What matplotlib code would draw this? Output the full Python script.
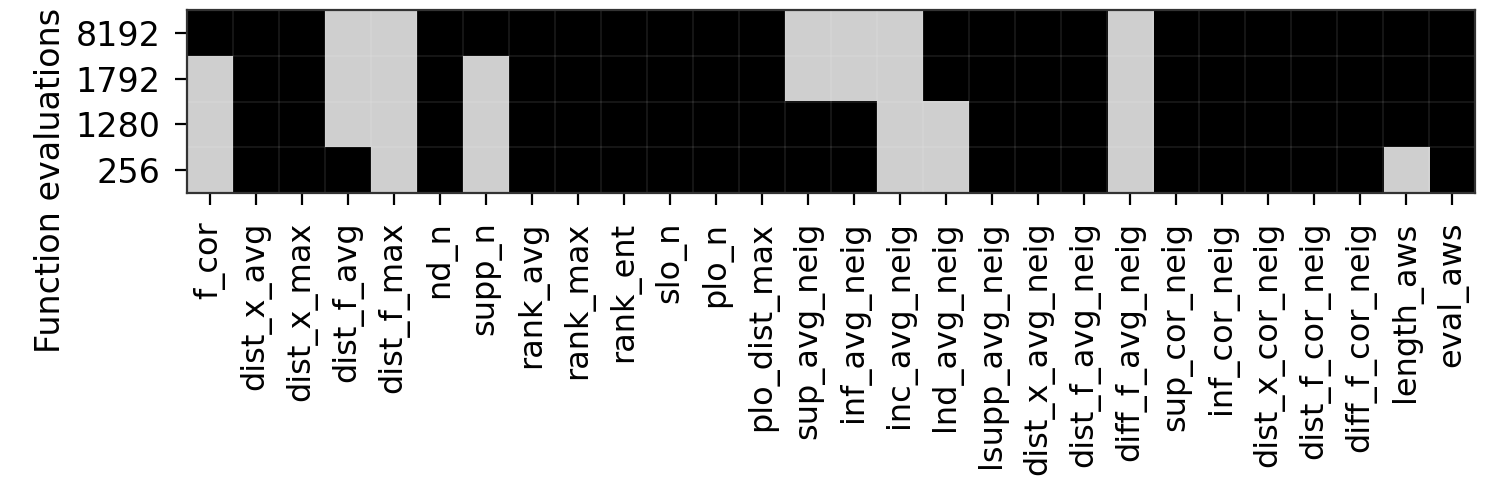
import matplotlib
matplotlib.use("Agg")
import matplotlib.pyplot as plt
import numpy as np
from matplotlib.colors import ListedColormap

FEATURES = [
    "f_cor", "dist_x_avg", "dist_x_max", "dist_f_avg", "dist_f_max", "nd_n",
    "supp_n", "rank_avg", "rank_max", "rank_ent", "slo_n", "plo_n",
    "plo_dist_max", "sup_avg_neig", "inf_avg_neig", "inc_avg_neig",
    "lnd_avg_neig", "lsupp_avg_neig", "dist_x_avg_neig", "dist_f_avg_neig",
    "diff_f_avg_neig", "sup_cor_neig", "inf_cor_neig", "dist_x_cor_neig",
    "dist_f_cor_neig", "diff_f_cor_neig", "length_aws", "eval_aws",
]
BUDGETS = ["8192", "1792", "1280", "256"]

# 1 = selected (light grey), 0 = not selected (black)
SEL_8192 = [0, 0, 0, 1, 1, 0, 0, 0, 0, 0, 0, 0, 0, 1, 1, 1, 0, 0, 0, 0, 1, 0, 0, 0, 0, 0, 0, 0]
SEL_1792 = [1, 0, 0, 1, 1, 0, 1, 0, 0, 0, 0, 0, 0, 1, 1, 1, 0, 0, 0, 0, 1, 0, 0, 0, 0, 0, 0, 0]
SEL_1280 = [1, 0, 0, 1, 1, 0, 1, 0, 0, 0, 0, 0, 0, 0, 0, 1, 1, 0, 0, 0, 1, 0, 0, 0, 0, 0, 0, 0]
SEL_256 = [1, 0, 0, 0, 1, 0, 1, 0, 0, 0, 0, 0, 0, 0, 0, 1, 1, 0, 0, 0, 1, 0, 0, 0, 0, 0, 1, 0]

plt.rcParams.update({"font.size": 12, "font.family": "DejaVu Sans"})

mat = np.array([SEL_8192, SEL_1792, SEL_1280, SEL_256])

fig, ax = plt.subplots(figsize=(7.465, 2.43), dpi=200)
fig.subplots_adjust(left=0.125, right=0.988, top=0.979, bottom=0.603)

cmap = ListedColormap(["#000000", "#cfcfcf"])
ax.imshow(mat, cmap=cmap, vmin=0, vmax=1, aspect="auto", interpolation="nearest")

ax.set_xticks(np.arange(len(FEATURES)))
ax.set_xticklabels(FEATURES, rotation=90, fontsize=11.5)
ax.set_yticks(np.arange(len(BUDGETS)))
ax.set_yticklabels(BUDGETS, fontsize=12)
ax.tick_params(which="major", length=4.3, pad=5)
ax.tick_params(axis="x", which="major", pad=6)
ax.set_ylabel("Function evaluations", fontsize=12)
ax.yaxis.set_label_coords(-0.093, 0.07)

# faint cell separators
ax.set_xticks(np.arange(-0.5, len(FEATURES), 1), minor=True)
ax.set_yticks(np.arange(-0.5, len(BUDGETS), 1), minor=True)
ax.grid(which="minor", color="white", alpha=0.1, linewidth=0.6)
ax.tick_params(which="minor", length=0)
for s in ax.spines.values():
    s.set_color("#333333")

fig.savefig("out.png", dpi=200)
